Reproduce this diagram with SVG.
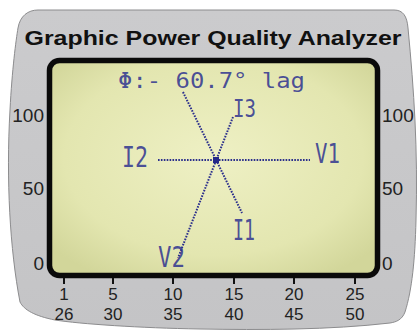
<svg xmlns="http://www.w3.org/2000/svg" width="417" height="331" viewBox="0 0 417 331">
  <defs>
    <linearGradient id="body" x1="0" y1="0" x2="0" y2="1">
      <stop offset="0" stop-color="#cbcbcd"/>
      <stop offset="1" stop-color="#c4c4c6"/>
    </linearGradient>
    <radialGradient id="lcd" cx="0.5" cy="0.45" r="0.65">
      <stop offset="0" stop-color="#eef0c4"/>
      <stop offset="0.7" stop-color="#e3e6b0"/>
      <stop offset="1" stop-color="#d2d69a"/>
    </radialGradient>
    <style>
      .num { font-family: "Liberation Sans", Arial, sans-serif; font-size: 19px; fill: #222; }
      .bot { font-family: "Liberation Sans", Arial, sans-serif; font-size: 17px; fill: #222; text-anchor: middle; }
      .lcdtxt { font-family: "DejaVu Sans Mono", "Liberation Mono", monospace; fill: #2f3490; fill-opacity: 0.85; }
      .dot { stroke: #2a2e8c; stroke-width: 2; stroke-dasharray: 1.6 1.3; fill: none; }
      .tick { stroke: #111; stroke-width: 2; }
    </style>
  </defs>
  <rect width="417" height="331" fill="#ffffff"/>
  <!-- device body -->
  <path d="M 38 10 L 394 10 C 403 10 407 16 408 28 C 414 90 418 150 416 220 C 415 260 412 290 405 312 C 402 320 396 322 390 323 C 330 330 260 330 200 329 C 140 328 80 324 55 320 C 35 316 24 310 20 302 C 10 250 6 180 10 110 C 12 70 16 40 18 28 C 20 16 28 10 38 10 Z" fill="url(#body)" stroke="#8c8c8e" stroke-width="1"/>
  <text x="213" y="45" text-anchor="middle" font-family="Liberation Sans, Arial, sans-serif" font-weight="bold" font-size="21" fill="#111" textLength="377" lengthAdjust="spacingAndGlyphs">Graphic Power Quality Analyzer</text>
  <!-- screen -->
  <rect x="49.5" y="60.5" width="328" height="215" rx="10" fill="url(#lcd)" stroke="#0a0a0a" stroke-width="5.5"/>
  <!-- left axis -->
  <text class="num" x="44" y="122" text-anchor="end">100</text>
  <text class="num" x="44" y="195" text-anchor="end">50</text>
  <text class="num" x="44" y="270" text-anchor="end">0</text>
  <!-- right axis -->
  <text class="num" x="382" y="122">100</text>
  <text class="num" x="382" y="195">50</text>
  <text class="num" x="382" y="270">0</text>
  <!-- bottom ticks -->
  <g>
    <line class="tick" x1="64" y1="278" x2="64" y2="284"/>
    <line class="tick" x1="113" y1="278" x2="113" y2="284"/>
    <line class="tick" x1="173" y1="278" x2="173" y2="284"/>
    <line class="tick" x1="234" y1="278" x2="234" y2="284"/>
    <line class="tick" x1="294" y1="278" x2="294" y2="284"/>
    <line class="tick" x1="355" y1="278" x2="355" y2="284"/>
  </g>
  <text class="bot" x="64" y="300">1</text>
  <text class="bot" x="64" y="320">26</text>
  <text class="bot" x="113" y="300">5</text>
  <text class="bot" x="113" y="320">30</text>
  <text class="bot" x="173" y="300">10</text>
  <text class="bot" x="173" y="320">35</text>
  <text class="bot" x="234" y="300">15</text>
  <text class="bot" x="234" y="320">40</text>
  <text class="bot" x="294" y="300">20</text>
  <text class="bot" x="294" y="320">45</text>
  <text class="bot" x="355" y="300">25</text>
  <text class="bot" x="355" y="320">50</text>
  <!-- LCD content -->
  <text class="lcdtxt" x="118" y="88" font-size="22" textLength="187" lengthAdjust="spacingAndGlyphs">Φ:- 60.7° lag</text>
  <g id="connectors">
    <line class="dot" x1="158" y1="160" x2="310" y2="160" stroke-width="2.2" stroke-dasharray="2 1"/>
    <line class="dot" x1="183" y1="92" x2="242" y2="213"/>
    <line class="dot" x1="233" y1="117" x2="178" y2="258"/>
  </g>
  <rect x="213" y="157" width="6" height="6" fill="#23278a"/>
  <g id="I2"><text class="lcdtxt" x="122" y="167" font-size="29" textLength="26" lengthAdjust="spacingAndGlyphs">I2</text></g>
  <g id="V1"><text class="lcdtxt" x="315" y="163" font-size="27" textLength="25" lengthAdjust="spacingAndGlyphs">V1</text></g>
  <g id="I3"><text class="lcdtxt" x="233" y="117" font-size="25" textLength="23" lengthAdjust="spacingAndGlyphs">I3</text></g>
  <g id="I1"><text class="lcdtxt" x="233" y="240" font-size="29" textLength="22" lengthAdjust="spacingAndGlyphs">I1</text></g>
  <g id="V2"><text class="lcdtxt" x="158" y="267" font-size="29" textLength="27" lengthAdjust="spacingAndGlyphs">V2</text></g>
</svg>
